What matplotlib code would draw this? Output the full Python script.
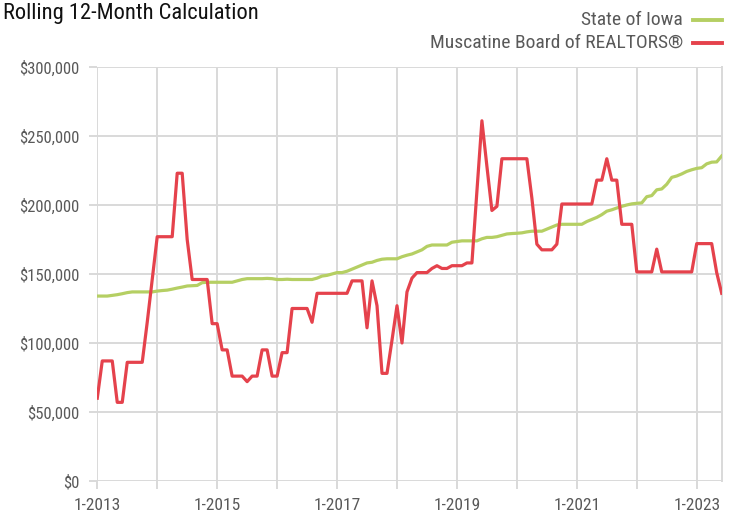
import numpy as np
import matplotlib
matplotlib.use("Agg")
import matplotlib.pyplot as plt
from matplotlib.lines import Line2D
from matplotlib.ticker import FuncFormatter

plt.rcParams['font.family'] = ['Roboto Condensed', 'Liberation Sans Narrow', 'DejaVu Sans']
plt.rcParams['font.stretch'] = 'condensed'

# monthly rolling 12-month median sales price, 1-2013 .. 6-2023
iowa = [134000, 134000, 134000, 134500, 135000, 135700, 136500, 137000, 137000, 137000,
        137000, 137000, 137600, 138000, 138300, 139000, 139800, 140500, 141300, 141500,
        141700, 143700, 144000, 144000, 144000, 144000, 144000, 144000, 145000, 146000,
        146600, 146600, 146600, 146600, 146800, 146600, 146000, 146000, 146200, 146000,
        146000, 146000, 146000, 146000, 147000, 148500, 149000, 150000, 151000, 151000,
        152000, 153500, 155000, 156500, 158000, 158500, 159800, 160700, 161000, 161000,
        161000, 162500, 163600, 164500, 166000, 167500, 170000, 171000, 171000, 171000,
        171000, 173000, 173500, 174000, 174000, 174000, 174000, 175500, 176500, 176500,
        177000, 178000, 179000, 179300, 179500, 179800, 180500, 181000, 181000, 181000,
        182500, 184000, 185500, 186000, 186000, 186000, 186000, 186000, 188000, 189500,
        191000, 193000, 195500, 196500, 197800, 199000, 200000, 200800, 201200, 201500,
        206000, 206800, 211000, 211600, 215000, 220000, 221000, 222500, 224300, 225500,
        226500, 227000, 229800, 231000, 231200, 235500]
muscatine = [60000, 87000, 87000, 87000, 57000, 57000, 86000, 86000, 86000, 86000,
             115000, 146000, 177000, 177000, 177000, 177000, 223000, 223000, 175000, 146000,
             146000, 146000, 146000, 114000, 114000, 95000, 95000, 76000, 76000, 76000,
             72000, 76000, 76000, 95000, 95000, 76000, 76000, 93000, 93000, 125000,
             125000, 125000, 125000, 115000, 136000, 136000, 136000, 136000, 136000, 136000,
             136000, 145000, 145000, 145000, 111000, 145000, 127000, 78000, 78000, 102000,
             127000, 100000, 137000, 147000, 151000, 151000, 151000, 154000, 156000, 154000,
             154000, 156000, 156000, 156000, 158000, 158000, 210000, 261000, 228000, 196000,
             199000, 233500, 233500, 233500, 233500, 233500, 233500, 205000, 171600, 167500,
             167500, 167500, 171600, 200700, 200700, 200700, 200700, 200700, 200700, 200700,
             218000, 218000, 233500, 218000, 218000, 186000, 186000, 186000, 151500, 151500,
             151500, 151500, 168000, 151500, 151500, 151500, 151500, 151500, 151500, 151500,
             172000, 172000, 172000, 172000, 151000, 136000]
tick_years = list(range(2013, 2024))

green = '#b5cf63'
red = '#e5424c'
grid = '#d9d9d9'
txt = '#595959'

x = np.arange(len(iowa))

fig = plt.figure(figsize=(7.38, 5.15), dpi=100)
ax = fig.add_axes([0.1318, 0.066, 0.8461, 0.804])

ax.plot(x, iowa, color=green, lw=2.3, solid_joinstyle='round', zorder=3)
ax.plot(x, muscatine, color=red, lw=2.3, solid_joinstyle='round', zorder=4)

ax.set_xlim(0, len(x) - 1)
ax.set_ylim(0, 300000)
ax.set_yticks(np.arange(0, 300001, 50000))
ax.yaxis.set_major_formatter(FuncFormatter(lambda v, p: '${:,.0f}'.format(v)))
xt = [12 * i for i in range(len(tick_years))]
ax.set_xticks(xt)
ax.set_xticklabels(['1-%d' % y if (y - 2013) % 2 == 0 else '' for y in tick_years])

ax.grid(True, color=grid, lw=1.4, zorder=0)
for s in ['left', 'top', 'bottom']:
    ax.spines[s].set_visible(False)
ax.spines['right'].set_color(grid)
ax.spines['right'].set_linewidth(1.4)
ax.tick_params(axis='y', length=6, width=1.4, color=grid, labelcolor=txt, labelsize=12, pad=7)
ax.tick_params(axis='x', length=6, width=1.4, color=grid, labelcolor=txt, labelsize=12.5, pad=6)

fig.text(0.004, 1 - 13 / 515, 'Rolling 12-Month Calculation', fontsize=16.2, color='#111111',
         ha='left', va='center')

legend_items = [('State of Iowa', green, 20), ('Muscatine Board of REALTORS®', red, 43)]
for label, col, ypix in legend_items:
    yf = 1 - ypix / 515
    fig.text(683 / 738, yf, label, fontsize=14, color=txt, ha='right', va='center')
    fig.add_artist(Line2D([693 / 738, 722 / 738], [yf, yf], color=col, lw=2.8,
                          transform=fig.transFigure))

fig.savefig('out.png', dpi=100)
